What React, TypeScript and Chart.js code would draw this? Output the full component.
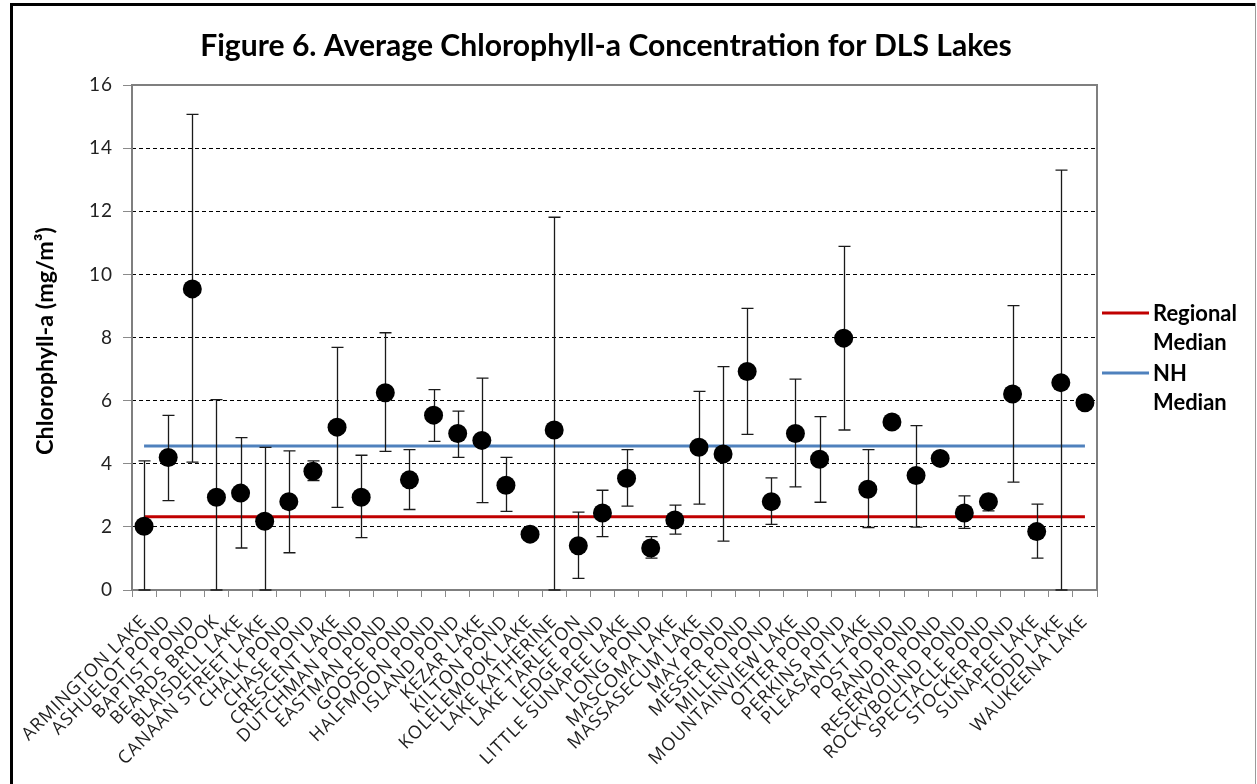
import React, { useEffect, useRef } from "react";
import { Chart, registerables } from "chart.js";

Chart.register(...registerables);

const lakes = [
  "ARMINGTON LAKE", "ASHUELOT POND", "BAPTIST POND", "BEARDS BROOK", "BLAISDELL LAKE",
  "CANAAN STREET LAKE", "CHALK POND", "CHASE POND", "CRESCENT LAKE", "DUTCHMAN POND",
  "EASTMAN POND", "GOOSE POND", "HALFMOON POND", "ISLAND POND", "KEZAR LAKE",
  "KILTON POND", "KOLELEMOOK LAKE", "LAKE KATHERINE", "LAKE TARLETON", "LEDGE POND",
  "LITTLE SUNAPEE LAKE", "LONG POND", "MASCOMA LAKE", "MASSASECUM LAKE", "MAY POND",
  "MESSER POND", "MILLEN POND", "MOUNTAINVIEW LAKE", "OTTER POND", "PERKINS POND",
  "PLEASANT LAKE", "POST POND", "RAND POND", "RESERVOIR POND", "ROCKYBOUND POND",
  "SPECTACLE POND", "STOCKER POND", "SUNAPEE LAKE", "TODD LAKE", "WAUKEENA LAKE",
];

const means = [
  2.02, 4.2, 9.54, 2.94, 3.07, 2.18, 2.8, 3.76, 5.16, 2.94,
  6.25, 3.49, 5.54, 4.96, 4.74, 3.32, 1.77, 5.07, 1.4, 2.44,
  3.54, 1.33, 2.22, 4.52, 4.31, 6.92, 2.8, 4.96, 4.14, 7.98,
  3.19, 5.32, 3.63, 4.17, 2.44, 2.8, 6.21, 1.85, 6.57, 5.93,
];

const upper: (number | null)[] = [
  4.09, 5.53, 15.07, 6.03, 4.83, 4.52, 4.41, 4.09, 7.69, 4.27,
  8.15, 4.45, 6.35, 5.67, 6.71, 4.2, null, 11.81, 2.47, 3.16,
  4.45, 1.69, 2.69, 6.29, 7.08, 8.92, 3.55, 6.68, 5.49, 10.89,
  4.45, null, 5.21, null, 2.98, 3.03, 9.01, 2.72, 13.3, null,
];

const lower: (number | null)[] = [
  0, 2.83, 4.05, 0, 1.33, 0, 1.18, 3.47, 2.62, 1.66,
  4.39, 2.55, 4.71, 4.2, 2.77, 2.49, null, 0, 0.37, 1.69,
  2.66, 1.01, 1.77, 2.72, 1.55, 4.93, 2.08, 3.27, 2.78, 5.07,
  1.98, null, 1.99, null, 1.95, 2.51, 3.42, 1.01, 0, null,
];

const regionalMedian = 2.32;
const nhMedian = 4.56;

const yMin = 0;
const yMax = 16;
const yStep = 2;

const TITLE = "Figure 6. Average Chlorophyll-a Concentration for DLS Lakes";
const Y_TITLE = "Chlorophyll-a (mg/m³)";
const LEGEND = [
  { lines: ["Regional", "Median"], color: "#C00000" },
  { lines: ["NH", "Median"], color: "#4F81BD" },
];

const BOLD_FAMILY = "Lato, 'Open Sans', sans-serif";

function fitSize(ctx: CanvasRenderingContext2D, text: string, weight: string, family: string, target: number) {
  ctx.font = `${weight} 100px ${family}`;
  const w = ctx.measureText(text).width;
  return (100 * target) / w;
}

const decorPlugin = {
  id: "decor",
  beforeDraw(chart: any) {
    const ctx = chart.ctx as any;
    ctx.save();
    ctx.fillStyle = "#ffffff";
    ctx.fillRect(0, 0, chart.width, chart.height);
    ctx.restore();
    ctx.letterSpacing = "1px";
  },
  beforeDatasetsDraw(chart: any) {
    const ctx = chart.ctx as any;
    ctx.letterSpacing = "0px";
    const a = chart.chartArea;
    ctx.save();
    ctx.strokeStyle = "#7f7f7f";
    ctx.lineWidth = 2;
    ctx.strokeRect(a.left, a.top, a.right - a.left, a.bottom - a.top);
    ctx.restore();
  },
  beforeDatasetDraw(chart: any, args: any) {
    if (args.index !== 0) return;
    const ctx = chart.ctx as CanvasRenderingContext2D;
    const xs = chart.scales.x;
    const ys = chart.scales.y;
    ctx.save();
    ctx.strokeStyle = "#1a1a1a";
    ctx.lineWidth = 1.3;
    const cap = 6;
    for (let i = 0; i < lakes.length; i++) {
      const u = upper[i];
      const l = lower[i];
      if (u == null || l == null) continue;
      const px = Math.round(xs.getPixelForValue(i)) + 0.5;
      const pu = ys.getPixelForValue(u);
      const pl = ys.getPixelForValue(l);
      ctx.beginPath();
      ctx.moveTo(px, pu);
      ctx.lineTo(px, pl);
      ctx.moveTo(px - cap, pu);
      ctx.lineTo(px + cap, pu);
      ctx.moveTo(px - cap, pl);
      ctx.lineTo(px + cap, pl);
      ctx.stroke();
    }
    ctx.restore();
  },
  afterDraw(chart: any) {
    const ctx = chart.ctx as any;
    ctx.save();
    ctx.letterSpacing = "0px";
    // title
    const ts = fitSize(ctx, TITLE, "bold", BOLD_FAMILY, 812);
    ctx.font = `bold ${ts}px ${BOLD_FAMILY}`;
    ctx.fillStyle = "#000";
    ctx.textAlign = "center";
    ctx.textBaseline = "middle";
    ctx.fillText(TITLE, 606, 46);

    // y title
    const ys = fitSize(ctx, Y_TITLE, "bold", BOLD_FAMILY, 228);
    ctx.save();
    ctx.translate(45, 341);
    ctx.rotate(-Math.PI / 2);
    ctx.font = `bold ${ys}px ${BOLD_FAMILY}`;
    ctx.fillText(Y_TITLE, 0, 0);
    ctx.restore();

    // legend
    const ls = fitSize(ctx, "Regional", "bold", BOLD_FAMILY, 84);
    ctx.font = `bold ${ls}px ${BOLD_FAMILY}`;
    ctx.textAlign = "left";
    const legendY = [313, 373];
    LEGEND.forEach((item, k) => {
      const y0 = legendY[k];
      ctx.strokeStyle = item.color;
      ctx.lineWidth = 3;
      ctx.beginPath();
      ctx.moveTo(1102, y0);
      ctx.lineTo(1149, y0);
      ctx.stroke();
      ctx.fillStyle = "#000";
      item.lines.forEach((t, j) => ctx.fillText(t, 1153, y0 + j * 29 + 1));
    });

    // outer frame
    ctx.fillStyle = "#000";
    ctx.fillRect(10, 3, 3, chart.height);
    ctx.fillRect(10, 3, chart.width - 12, 3);
    ctx.fillStyle = "#9a9a9a";
    ctx.fillRect(1255, 3, 1, chart.height);
    ctx.restore();
  },
};

export default function App() {
  const ref = useRef<HTMLCanvasElement | null>(null);

  useEffect(() => {
    if (!ref.current) return;
    const chart = new Chart(ref.current, {
      type: "line",
      data: {
        labels: lakes,
        datasets: [
          {
            label: "Average",
            data: means,
            showLine: false,
            pointRadius: 9.5,
            pointHoverRadius: 9.5,
            pointBackgroundColor: "#000",
            pointBorderColor: "#000",
            pointBorderWidth: 0,
            order: 0,
          },
          {
            label: "Regional Median",
            data: lakes.map(() => regionalMedian),
            borderColor: "#C00000",
            borderWidth: 3,
            pointRadius: 0,
            fill: false,
            order: 1,
          },
          {
            label: "NH Median",
            data: lakes.map(() => nhMedian),
            borderColor: "#4F81BD",
            borderWidth: 3,
            pointRadius: 0,
            fill: false,
            order: 2,
          },
        ],
      },
      options: {
        animation: false,
        responsive: false,
        events: [],
        layout: { padding: { left: 0, top: 85, right: 160, bottom: 0 } },
        plugins: {
          legend: { display: false },
          title: { display: false },
          tooltip: { enabled: false },
        },
        scales: {
          x: {
            type: "category",
            offset: true,
            grid: {
              offset: true,
              drawOnChartArea: false,
              drawTicks: true,
              tickLength: 7,
              tickColor: "#8a8a8a",
              tickWidth: 1,
            },
            border: { display: false },
            ticks: {
              autoSkip: false,
              minRotation: 45,
              maxRotation: 45,
              padding: 14,
              color: "#1e1e1e",
              font: { family: "'Open Sans', sans-serif", size: 18 },
            },
            afterFit: (s: any) => {
              s.height = 194;
            },
          },
          y: {
            min: yMin,
            max: yMax,
            border: { display: false, dash: [4, 3] },
            grid: {
              color: (c: any) =>
                c.tick && (c.tick.value === yMin || c.tick.value === yMax) ? "rgba(0,0,0,0)" : "#000",
              lineWidth: 1,
              drawTicks: true,
              tickLength: 9,
              tickColor: "#8a8a8a",
              tickBorderDash: [],
              tickWidth: 1,
            },
            ticks: {
              stepSize: yStep,
              padding: 10,
              color: "#222",
              font: { family: "Lato, sans-serif", size: 19 },
            },
            afterFit: (s: any) => {
              s.width = 132;
            },
          },
        },
      },
      plugins: [decorPlugin],
    } as any);
    return () => chart.destroy();
  }, []);

  return (
    <div style={{ position: "absolute", left: 0, top: 0, width: 1257, height: 784, background: "#fff" }}>
      <canvas ref={ref} width={1257} height={784} style={{ display: "block", width: 1257, height: 784 }} />
    </div>
  );
}
